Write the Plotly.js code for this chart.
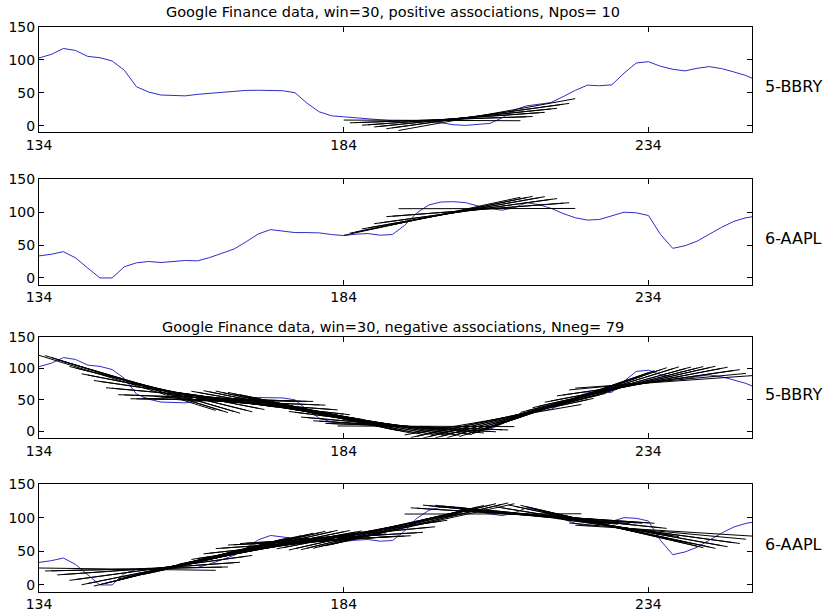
<!DOCTYPE html>
<html><head><meta charset="utf-8">
<script src="https://cdn.plot.ly/plotly-3.0.1.min.js"></script>
<style>body{margin:0;background:#fff}</style>
</head><body><div id="chart" style="width:827px;height:612px"></div>
<script>
// ---- data ----
const days = [134,136,138,140,142,144,146,148,150,152,154,156,158,160,162,164,166,168,170,172,174,176,178,180,182,184,186,188,190,192,194,196,198,200,202,204,206,208,210,212,214,216,218,220,222,224,226,228,230,232,234,236,238,240,242,244,246,248,250,251];
const bbry = [102.6,108,117,114,105,103,98,84,59,51,46.5,45.6,45.2,47.5,49.5,50.5,52,53.5,53.7,53,53,50,34,21,15,13.5,12,9.5,8,7.5,7.7,7.7,7.5,4.5,1.5,0.5,1.5,3.5,12,24,30,32.5,35,44,53.5,61.5,60.5,62,79.5,95,97,90,85.5,83,87,89.5,86.5,81.5,76,72];
const aapl = [33.5,36,40,30.5,15,0,0,17,23,25,23.5,25.5,26.5,26,31,37.5,44,55,67,73.5,71,69,69,68.5,66,64.5,66.5,67.5,65,66,80,99,111,115.5,116,114.5,109.5,105.5,103,107,114.5,111.5,106,98,91.5,88,89,94.5,100,99,95,66,45,49,56,66.5,77,86,91.5,93];
const win = 30;
const posStarts = [184,185,186,187,188,189,190,191,192,193];
const firstStart = 134, lastStart = 222;
const xTicks = [134,184,234];
const yTicks = [0,50,100,150];
const seriesLabels = ['5-BBRY','6-AAPL','5-BBRY','6-AAPL'];
const titles = ['Google Finance data, win=30, positive associations, Npos= 10',
                'Google Finance data, win=30, negative associations, Nneg= 79'];

// ---- window starts for negative associations: all other windows ----
const negStarts = [];
for (let s = firstStart; s <= lastStart; s++) if (!posStarts.includes(s)) negStarts.push(s);

// least-squares line over each window
function fitLines(vals, starts) {
  const xs = [], ys = [];
  starts.forEach(s => {
    const e = s + win - 1;
    const px = [], py = [];
    days.forEach((d, i) => { if (d >= s && d <= e) { px.push(d); py.push(vals[i]); } });
    const n = px.length;
    const mx = px.reduce((a, b) => a + b, 0) / n;
    const my = py.reduce((a, b) => a + b, 0) / n;
    let sxy = 0, sxx = 0;
    for (let i = 0; i < n; i++) { sxy += (px[i] - mx) * (py[i] - my); sxx += (px[i] - mx) ** 2; }
    const b = sxy / sxx, a = my - b * mx;
    xs.push(s, e, null); ys.push(a + b * s, a + b * e, null);
  });
  return {xs, ys};
}

const blue = 'rgb(45,45,200)';
const panels = [
  {vals: bbry, starts: posStarts},
  {vals: aapl, starts: posStarts},
  {vals: bbry, starts: negStarts},
  {vals: aapl, starts: negStarts}
];
const traces = [];
panels.forEach((p, k) => {
  const xa = k === 0 ? 'x' : 'x' + (k + 1);
  const ya = k === 0 ? 'y' : 'y' + (k + 1);
  traces.push({x: days, y: p.vals, xaxis: xa, yaxis: ya, type: 'scatter', mode: 'lines',
               line: {color: blue, width: 1}, hoverinfo: 'skip', showlegend: false});
  const f = fitLines(p.vals, p.starts);
  traces.push({x: f.xs, y: f.ys, xaxis: xa, yaxis: ya, type: 'scatter', mode: 'lines',
               connectgaps: false, line: {color: '#000', width: 1}, hoverinfo: 'skip', showlegend: false});
});

const tickFont = {family: 'DejaVu Sans, Arial, sans-serif', size: 14, color: '#000'};
const domains = [[0.7838, 0.9564], [0.5351, 0.7070], [0.2848, 0.4498], [0.0332, 0.2092]];
const layout = {
  width: 827, height: 612,
  margin: {l: 39, r: 75, t: 0, b: 0},
  paper_bgcolor: '#fff', plot_bgcolor: '#fff',
  showlegend: false,
  annotations: []
};
domains.forEach((dom, k) => {
  const xn = k === 0 ? 'xaxis' : 'xaxis' + (k + 1);
  const yn = k === 0 ? 'yaxis' : 'yaxis' + (k + 1);
  layout[xn] = {domain: [0, 1], anchor: k === 0 ? 'y' : 'y' + (k + 1), range: [134, 251],
    tickmode: 'array', tickvals: xTicks, ticktext: xTicks.map(String),
    ticks: 'inside', ticklen: 5, tickcolor: '#000', mirror: 'ticks', showline: true,
    linecolor: '#000', linewidth: 1, showgrid: false, zeroline: false, tickfont: tickFont, fixedrange: true};
  layout[yn] = {domain: dom, anchor: k === 0 ? 'x' : 'x' + (k + 1), range: [-10, 150],
    tickmode: 'array', tickvals: yTicks, ticktext: yTicks.map(String),
    ticks: 'inside', ticklen: 5, tickcolor: '#000', mirror: 'ticks', showline: true,
    linecolor: '#000', linewidth: 1, showgrid: false, zeroline: false, tickfont: tickFont, fixedrange: true};
});
const labelY = [0.8587, 0.6095, 0.3562, 0.1095];
seriesLabels.forEach((t, k) => {
  layout.annotations.push({text: t, xref: 'paper', yref: 'paper', x: 1.0154, y: labelY[k],
    xanchor: 'left', yanchor: 'middle', showarrow: false,
    font: {family: 'DejaVu Sans, Arial, sans-serif', size: 16, color: '#000'}});
});
[[titles[0], 0.981], [titles[1], 0.4663]].forEach(([t, y]) => {
  layout.annotations.push({text: t, xref: 'paper', yref: 'paper', x: 0.4965, y: y,
    xanchor: 'center', yanchor: 'middle', showarrow: false,
    font: {family: 'DejaVu Sans, Arial, sans-serif', size: 14.5, color: '#000'}});
});
Plotly.newPlot('chart', traces, layout, {displayModeBar: false, staticPlot: true});
</script></body></html>
